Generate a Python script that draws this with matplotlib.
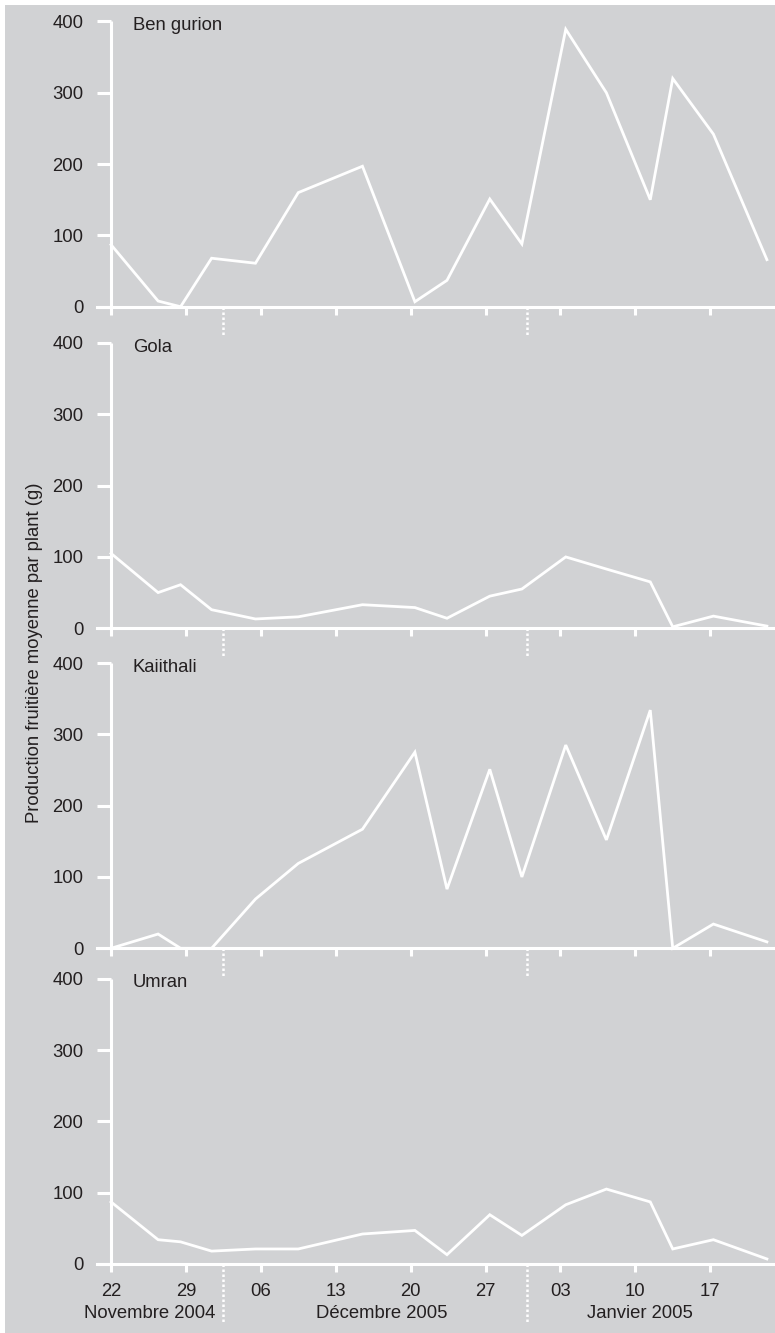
"""Fruit production per plant for four cultivars, Nov 2004 - Jan 2005."""

import matplotlib
matplotlib.use("Agg")
import matplotlib.pyplot as plt
import matplotlib.transforms as mtransforms
from matplotlib.patches import Rectangle

plt.rcParams.update({
    "font.family": ["Liberation Sans", "DejaVu Sans"],
    "font.size": 13,
    "text.color": "#231f20",
    "xtick.color": "white",
    "ytick.color": "white",
    "xtick.labelcolor": "#231f20",
    "ytick.labelcolor": "#231f20",
})

BG = "#d1d2d4"
INK = "#231f20"

# sampling days, counted from 22 November 2004
days = [0, 4.4, 6.5, 9.4, 13.5, 17.5, 23.5, 28.4, 31.4, 35.4, 38.4,
        42.5, 46.3, 50.4, 52.5, 56.3, 61.3]

ben_gurion = [87, 8, 0, 68, 61, 160, 197, 7, 37, 151, 88,
              389, 300, 150, 320, 242, 66]
gola = [105, 50, 61, 26, 13, 16, 33, 29, 14, 45, 55,
        100, 83, 65, 2, 17, 3]
kaiithali = [0, 20, 0, 0, 69, 119, 167, 275, 83, 251, 100,
             285, 152, 334, 0, 34, 9]
umran = [87, 34, 31, 18, 21, 21, 42, 47, 13, 69, 40,
         83, 105, 87, 21, 34, 7]

cultivars = ["Ben gurion", "Gola", "Kaiithali", "Umran"]
series = [ben_gurion, gola, kaiithali, umran]

tick_days = [0, 7, 14, 21, 28, 35, 42, 49, 56]
tick_labels = ["22", "29", "06", "13", "20", "27", "03", "10", "17"]

# month boundaries and month captions under the last panel
month_breaks = [10.5, 38.9]
month_names = ["Novembre 2004", "Décembre 2005", "Janvier 2005"]
month_centres = [3.6, 25.3, 49.4]

fig = plt.figure(figsize=(7.75, 13.33), dpi=100)
fig.patch.set_facecolor("white")
fig.patches.append(Rectangle((5 / 775, 0), 1, 1 - 5 / 1333,
                             transform=fig.transFigure, facecolor=BG,
                             edgecolor="none", zorder=-10))

bottoms = [0.7699, 0.5287, 0.2886, 0.0518]
height = 0.2140
left, width = 97 / 775, 676 / 775

for i, (name, vals, b) in enumerate(zip(cultivars, series, bottoms)):
    ax = fig.add_axes([left, b, width, height])
    ax.set_facecolor("none")
    ax.plot(days, vals, color="white", lw=2.0, solid_joinstyle="miter",
            clip_on=False)
    ax.set_xlim(-1.31, 61.87)
    ax.set_ylim(0, 400)

    for side in ("top", "right"):
        ax.spines[side].set_visible(False)
    ax.spines["left"].set_position(("data", 0))
    ax.spines["left"].set_color("white")
    ax.spines["left"].set_linewidth(2.2)
    ax.spines["bottom"].set_color("white")
    ax.spines["bottom"].set_linewidth(2.2)
    ax.spines["left"].set_capstyle("butt")

    ax.set_yticks([0, 100, 200, 300, 400])
    ax.tick_params(axis="y", length=10, width=2.2, pad=10, labelsize=13.3)
    ax.set_xticks(tick_days)
    ax.tick_params(axis="x", length=6, width=2.2, pad=8, labelsize=13.3)
    if i == 3:
        ax.set_xticklabels(tick_labels)
    else:
        ax.set_xticklabels([])

    ax.text(2.05, 394, name, ha="left", va="center", fontsize=13.3, color=INK)

    # dotted month separators hanging below the axis
    trans = mtransforms.blended_transform_factory(ax.transData, ax.transAxes)
    drop = -0.21 if i == 3 else -0.10
    for m in month_breaks:
        ax.plot([m, m], [0, drop], transform=trans, color="white", lw=1.8,
                ls=(0, (1, 1)), clip_on=False)

    if i == 3:
        for name_m, c in zip(month_names, month_centres):
            ax.text(c, -0.172, name_m, transform=trans, ha="center",
                    va="center", fontsize=13.3, color=INK)

fig.text(0.044, 0.51, "Production fruitière moyenne par plant (g)",
         rotation=90, ha="center", va="center", fontsize=13.3, color=INK)

fig.savefig("out.png", dpi=100, facecolor=fig.get_facecolor())
